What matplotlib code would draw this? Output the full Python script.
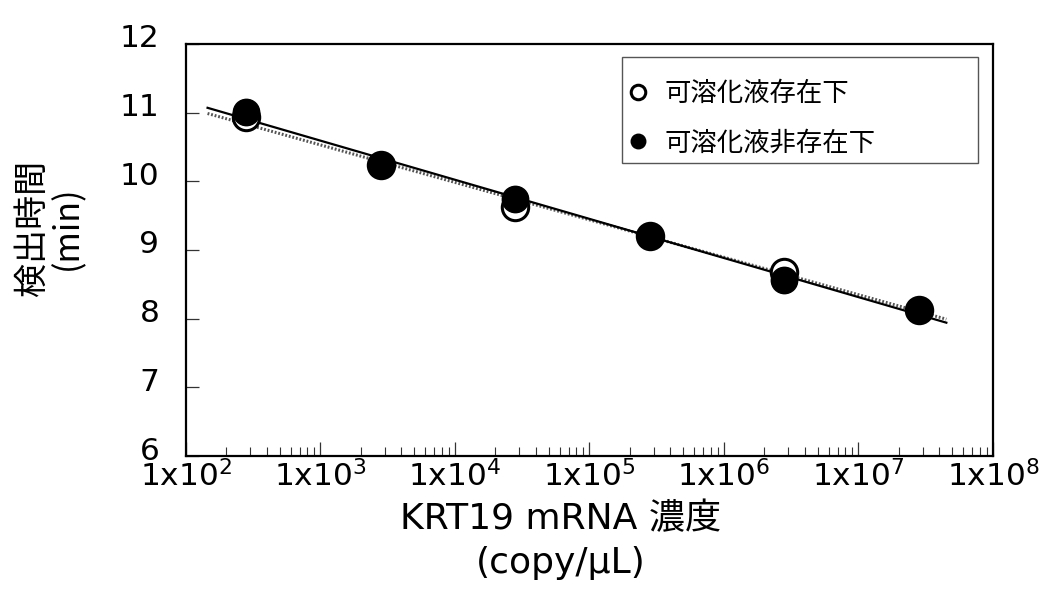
import numpy as np
import matplotlib
matplotlib.use("Agg")
import matplotlib.pyplot as plt
import matplotlib.transforms as mtransforms
from matplotlib.patches import Rectangle
from matplotlib.ticker import FixedLocator, LogLocator, NullFormatter, FuncFormatter

plt.rcParams['font.family'] = ['Noto Sans CJK JP', 'DejaVu Sans']
plt.rcParams['mathtext.fontset'] = 'dejavusans'

# Data
conc = [2.8e2, 2.8e3, 2.8e4, 2.8e5, 2.8e6, 2.8e7]
time_with = [10.93, 10.24, 9.62, 9.21, 8.68, 8.13]      # 可溶化液存在下 (open)
time_without = [11.01, 10.24, 9.74, 9.21, 8.57, 8.13]   # 可溶化液非存在下 (filled)
label_with = "可溶化液存在下"
label_without = "可溶化液非存在下"
fit_range = [1.45e2, 4.5e7]
xticks = [1e2, 1e3, 1e4, 1e5, 1e6, 1e7, 1e8]
yticks = [6, 7, 8, 9, 10, 11, 12]

fig = plt.figure(figsize=(10.5, 6.09), dpi=100)
ax = fig.add_axes([0.177, 0.2512, 0.7687, 0.6766])

lx = np.log10(conc)
xf = np.logspace(np.log10(fit_range[0]), np.log10(fit_range[1]), 50)
p_with = np.polyfit(lx, time_with, 1)
p_without = np.polyfit(lx, time_without, 1)
ax.plot(xf, np.polyval(p_with, np.log10(xf)), color='#555555', lw=2.2, ls=(0, (0.6, 0.6)), zorder=2)
ax.plot(xf, np.polyval(p_without, np.log10(xf)), color='black', lw=1.6, zorder=3)

ax.plot(conc, time_with, 'o', ms=19, mfc='white', mec='black', mew=2.2, zorder=4, label=label_with)
ax.plot(conc, time_without, 'o', ms=19, mfc='black', mec='black', mew=1, zorder=5, label=label_without)

ax.set_xscale('log')
ax.set_xlim(1e2, 1e8)
ax.set_ylim(6, 12)
ax.xaxis.set_major_locator(FixedLocator(xticks))
ax.xaxis.set_major_formatter(FuncFormatter(lambda v, p: r'1x10$^{%d}$' % round(np.log10(v))))
ax.xaxis.set_minor_locator(LogLocator(base=10, subs=np.arange(2, 10)))
ax.xaxis.set_minor_formatter(NullFormatter())
ax.set_yticks(yticks)

for s in ax.spines.values():
    s.set_linewidth(1.6)
ax.tick_params(axis='both', which='major', direction='in', labelsize=22.5, width=0.9, color='#333333')
ax.tick_params(axis='y', which='major', length=9.5, pad=19)
ax.tick_params(axis='x', which='major', length=10, pad=3)
ax.tick_params(axis='x', which='minor', direction='in', length=6.5, width=0.8, color='#333333')
shift = mtransforms.ScaledTranslation(0, 8 / 100, fig.dpi_scale_trans)
for t in ax.get_xticklabels() + ax.get_yticklabels():
    t.set_fontfamily('DejaVu Sans')
for t in ax.get_yticklabels():
    t.set_transform(t.get_transform() + shift)

fig.text(561 / 1050, 1 - 541 / 609, "KRT19 mRNA 濃度\n(copy/μL)", fontsize=26,
         family=['DejaVu Sans', 'Noto Sans CJK JP'], ha='center', va='center',
         multialignment='center', linespacing=1.35)
fig.text(50 / 1050, 1 - 228 / 609, "検出時間\n(min)", fontsize=24.5, rotation=90,
         family=['Noto Sans CJK JP', 'DejaVu Sans'], ha='center', va='center',
         multialignment='center', linespacing=1.0)

ax.add_patch(Rectangle((0.540, 0.711), 0.441, 0.257, transform=ax.transAxes,
                       fill=False, edgecolor='#555555', lw=1.0, zorder=6))
leg = ax.legend(loc='center left', bbox_to_anchor=(0.547, 0.82),
                fontsize=19, frameon=False, markerscale=0.55,
                handlelength=0.8, handletextpad=0.6, labelspacing=0.85, borderpad=0,
                borderaxespad=0)

fig.savefig("out.png", dpi=100)
